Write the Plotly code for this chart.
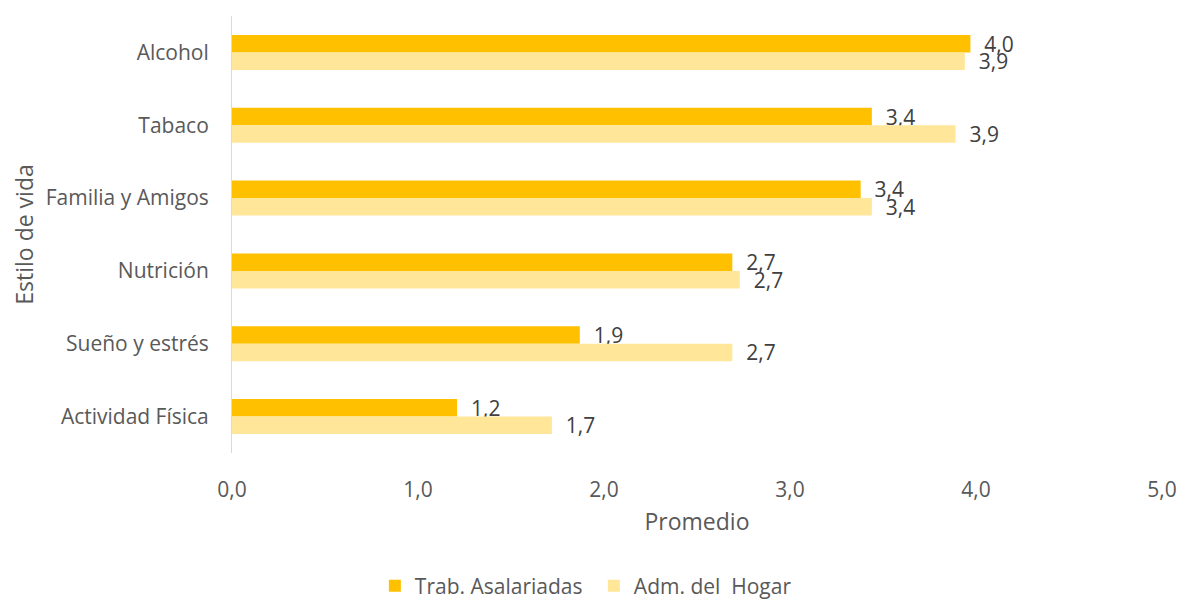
import plotly.graph_objects as go

# Lifestyle domains, listed top to bottom
categorias = ["Alcohol", "Tabaco", "Familia y Amigos", "Nutrición",
              "Sueño y estrés", "Actividad Física"]

# Average score per group
trab_asalariadas = [3.97, 3.44, 3.38, 2.69, 1.87, 1.21]
adm_hogar = [3.94, 3.89, 3.44, 2.73, 2.69, 1.72]

x_ticks = [0, 1, 2, 3, 4, 5]
x_tick_labels = ["0,0", "1,0", "2,0", "3,0", "4,0", "5,0"]

FONT = "Open Sans"
GRAY = "#595959"
LABEL = "#404040"
SIZE = 21
TITLE_SIZE = 23

fig = go.Figure()
fig.add_trace(go.Bar(
    name="Trab. Asalariadas", y=categorias, x=trab_asalariadas,
    orientation="h", marker=dict(color="#FFC000", line=dict(width=0)),
    texttemplate="\u00a0\u00a0%{x:.1f}", textposition="outside",
    textfont=dict(family=FONT, size=SIZE, color=LABEL),
    constraintext="none", cliponaxis=False, hoverinfo="skip",
))
fig.add_trace(go.Bar(
    name="Adm. del  Hogar", y=categorias, x=adm_hogar,
    orientation="h", marker=dict(color="#FFE699", line=dict(width=0)),
    texttemplate="\u00a0\u00a0%{x:.1f}", textposition="outside",
    textfont=dict(family=FONT, size=SIZE, color=LABEL),
    constraintext="none", cliponaxis=False, hoverinfo="skip",
))

fig.update_layout(
    width=1183, height=603,
    margin=dict(l=232, r=21, t=16, b=150),
    paper_bgcolor="white", plot_bgcolor="white",
    barmode="group", bargap=0.52, bargroupgap=0,
    separators=",.",
    font=dict(family=FONT, size=SIZE, color=GRAY),
    showlegend=True,
    legend=dict(
        orientation="h", x=0.502, xanchor="center", xref="container",
        y=0.028, yanchor="middle", yref="container",
        font=dict(family=FONT, size=SIZE, color=GRAY),
        traceorder="normal", itemwidth=30, entrywidth=174,
    ),
    xaxis=dict(
        range=[0, 5], tickvals=x_ticks, ticktext=x_tick_labels,
        showgrid=False, zeroline=False, showline=False,
        ticks="", ticklabelstandoff=22, automargin=False,
        tickfont=dict(family=FONT, size=SIZE, color=GRAY),
        title=dict(text="Promedio", standoff=11,
                   font=dict(family=FONT, size=TITLE_SIZE, color=GRAY)),
    ),
    yaxis=dict(
        autorange="reversed", showgrid=False, zeroline=False,
        showline=True, linecolor="#D9D9D9", linewidth=1,
        ticks="", ticklabelstandoff=18, automargin=False,
        tickfont=dict(family=FONT, size=SIZE, color=GRAY),
        title=dict(text="Estilo de vida", standoff=5,
                   font=dict(family=FONT, size=TITLE_SIZE, color=GRAY)),
    ),
)

fig.write_html("out.html")
